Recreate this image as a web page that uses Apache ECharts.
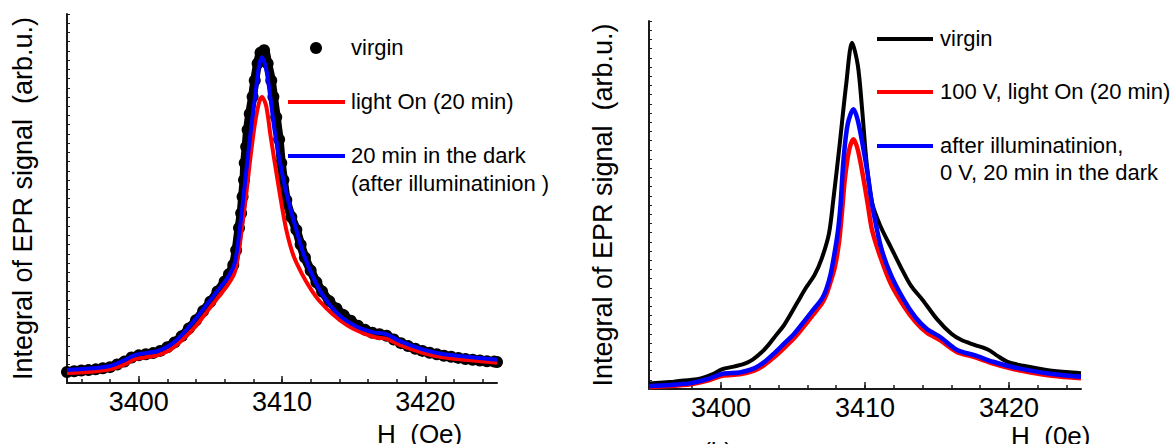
<!DOCTYPE html>
<html>
<head>
<meta charset="utf-8">
<title>EPR integral</title>
<script src="https://cdn.jsdelivr.net/npm/echarts@6/dist/echarts.min.js"></script>
<style>
  html, body { margin: 0; padding: 0; background: #fff; }
  #chart { width: 1175px; height: 444px; }
</style>
</head>
<body>
<div id="chart"></div>
<script>
// field range (Oe) and tick values
const hMin = 3395;
const hMax = 3425;
const majorTicks = [3400, 3410, 3420];
const minorTicks = [3396, 3398, 3400, 3402, 3404, 3406, 3408, 3410, 3412, 3414, 3416, 3418, 3420, 3422, 3424];

// panel (a): [H, integral] (arb. units, axis top = 100)
const aVirgin = [
  [3395, 3.0], [3395.5, 3.2], [3396, 3.4], [3396.5, 3.5], [3397, 3.7], [3397.5, 4.0], [3398, 4.3],
  [3398.5, 5.0], [3399, 5.8], [3399.5, 6.9], [3400, 7.5], [3400.5, 7.8], [3401, 8.1], [3401.5, 8.7],
  [3402, 9.7], [3402.5, 11], [3403, 12.7], [3403.5, 14.8], [3404, 17], [3404.5, 19.5], [3405, 22],
  [3405.5, 24.8], [3406, 27.5], [3406.3, 29.5], [3406.6, 32], [3406.8, 36], [3407.0, 42],
  [3407.15, 46], [3407.25, 50.5], [3407.35, 55], [3407.4, 59.6], [3407.5, 64], [3407.6, 68.6],
  [3407.75, 73], [3407.95, 77.6], [3408.1, 82], [3408.3, 86.6], [3408.5, 89.5], [3408.75, 90.2],
  [3409.0, 86.6], [3409.25, 82], [3409.4, 77.6], [3409.6, 72], [3409.8, 66], [3409.95, 59.6],
  [3410.1, 55], [3410.3, 49.6], [3410.65, 45], [3411.0, 41.5], [3411.3, 37.5], [3411.6, 34],
  [3412.0, 30.5], [3412.4, 27.3], [3412.8, 24.8], [3413.3, 22.2], [3413.8, 20.2], [3414.3, 18.4],
  [3414.8, 16.9], [3415.3, 15.5], [3415.8, 14.4], [3416.3, 13.6], [3416.8, 13.2], [3417.3, 12.8],
  [3417.8, 11.8], [3418.3, 10.8], [3418.8, 10], [3419.3, 9.3], [3419.8, 8.7], [3420.3, 8.2],
  [3420.8, 7.8], [3421.3, 7.4], [3421.8, 7.1], [3422.3, 6.8], [3422.8, 6.5], [3423.3, 6.3],
  [3423.8, 6.1], [3424.3, 5.9], [3424.8, 5.8], [3425, 5.7]
];
const aLightOn = [
  [3395, 2.7], [3396.5, 3.0], [3398, 3.7], [3399, 5.0], [3399.7, 6.4], [3400.5, 7.0], [3401.3, 7.5],
  [3402.2, 9.0], [3403, 11.5], [3404, 15.5], [3404.7, 19], [3405.5, 23], [3406.2, 26.5], [3406.7, 30],
  [3407.0, 36], [3407.2, 42], [3407.5, 51], [3407.75, 59.6], [3408.1, 70], [3408.4, 76], [3408.6, 77.5],
  [3408.9, 75], [3409.2, 67], [3409.5, 59.6], [3409.9, 50], [3410.3, 41.5], [3410.8, 34.5],
  [3411.4, 29.5], [3412.0, 25.5], [3412.6, 22.3], [3413.5, 18.8], [3414.5, 15.8], [3415.5, 13.8],
  [3416.5, 12.4], [3417.3, 12.0], [3418.2, 10.3], [3419.8, 8.2], [3421, 7.1], [3422.2, 6.5], [3425, 5.5]
];
const aDark = [
  [3395, 3.5], [3396.5, 3.9], [3398, 4.6], [3399, 6.2], [3399.7, 7.5], [3400.5, 8.1], [3401.3, 8.6],
  [3402.2, 10.3], [3403, 13], [3404, 17.5], [3404.7, 21], [3405.5, 25], [3406.2, 28.5], [3406.7, 32.5],
  [3407.0, 40], [3407.3, 50], [3407.75, 66], [3408.2, 80], [3408.4, 86], [3408.6, 88.3], [3408.9, 85],
  [3409.2, 77], [3409.5, 68], [3410.0, 57], [3410.4, 50], [3411.0, 41.5], [3411.5, 35], [3412.2, 28.5],
  [3412.9, 23.5], [3414.0, 18.4], [3415.2, 15.3], [3416.3, 13.8], [3417.3, 13.2], [3418.2, 11.4],
  [3419.8, 9.1], [3421, 8], [3422.2, 7.4], [3425, 6.3]
];

// panel (b)
const bVirgin = [
  [3395, 1.5], [3396.7, 2.0], [3398, 2.5], [3398.6, 2.9], [3399.4, 4.0], [3400.1, 5.4], [3400.8, 6.0],
  [3401.6, 6.8], [3402.2, 8.0], [3402.8, 9.9], [3403.3, 12], [3403.8, 14.5], [3404.4, 17.5],
  [3405.3, 23.5], [3405.9, 27.5], [3406.5, 31], [3407.0, 35.5], [3407.5, 42.3], [3407.8, 51.4],
  [3408.2, 65], [3408.7, 83], [3409.1, 94.1], [3409.5, 88], [3409.8, 76], [3410.1, 62],
  [3410.5, 50.5], [3411.1, 44], [3411.8, 38.5], [3412.5, 33], [3413.2, 28], [3414.0, 24.2],
  [3415, 19], [3416, 15], [3416.7, 13.3], [3417.6, 12], [3418.6, 10.6], [3419.2, 9], [3419.9, 7.4],
  [3421, 6.3], [3422.6, 5.2], [3424, 4.6], [3425, 4.3]
];
const bLightOn = [
  [3395, 0.5], [3396.5, 0.8], [3397.9, 1.3], [3399, 2.2], [3400.1, 3.6], [3401.3, 4.0], [3402.3, 5.0],
  [3403, 6.5], [3403.7, 8.7], [3404.4, 11.2], [3405.1, 13.9], [3405.8, 17.2], [3406.4, 20.2],
  [3407.0, 23.2], [3407.3, 25.5], [3407.6, 29], [3407.9, 33], [3408.2, 40], [3408.4, 48], [3408.6, 57],
  [3408.9, 65], [3409.2, 67.9], [3409.5, 65], [3409.9, 57], [3410.2, 50], [3410.5, 43], [3411.1, 35.5],
  [3411.8, 28.5], [3412.7, 22.5], [3413.5, 18.3], [3414.3, 15.3], [3415.2, 13.3], [3416.4, 10],
  [3417.6, 8.7], [3418.9, 6.9], [3420.1, 5.6], [3421.5, 4.5], [3423, 3.6], [3425, 2.9]
];
const bDark = [
  [3395, 0.8], [3396.5, 1.1], [3397.9, 1.6], [3399, 2.6], [3400.1, 4.1], [3401.3, 4.5], [3402.3, 5.6],
  [3403, 7.3], [3403.7, 9.7], [3404.4, 12.4], [3405.1, 15.1], [3405.8, 18.5], [3406.4, 21.5],
  [3407.0, 24.5], [3407.3, 27], [3407.6, 31], [3407.8, 35], [3408.1, 42.3], [3408.3, 50], [3408.5, 62],
  [3408.8, 72], [3409.2, 76], [3409.5, 73], [3409.9, 65], [3410.2, 58], [3410.5, 50], [3411.1, 38.7],
  [3411.8, 31], [3412.7, 24.2], [3413.5, 19.5], [3414.3, 16.3], [3415.2, 14.2], [3416.4, 10.6],
  [3417.6, 9.2], [3418.9, 7.4], [3420.1, 6.1], [3421.5, 5.0], [3423, 4.1], [3425, 3.3]
];

const FONT = "'Liberation Sans', Arial, sans-serif";
const chart = echarts.init(document.getElementById("chart"), null, { renderer: "svg" });

const axisColor = "#1a1a1a";
const makeMajorX = (grid) => ({
  type: "value", gridIndex: grid, position: "bottom", min: hMin, max: hMax,
  axisLine: { onZero: false, lineStyle: { color: axisColor, width: 2 } },
  axisTick: { inside: true, length: 7, customValues: majorTicks, lineStyle: { color: axisColor, width: 1.5 } },
  axisLabel: {
    customValues: majorTicks, color: "#000", fontSize: 27, fontFamily: FONT, margin: 5,
    formatter: (v) => String(v)
  },
  splitLine: { show: false }
});
const makeMinorX = (grid) => ({
  type: "value", gridIndex: grid, position: "bottom", min: hMin, max: hMax,
  axisLine: { show: false, onZero: false },
  axisTick: { inside: true, length: 4, customValues: minorTicks, lineStyle: { color: axisColor, width: 1.5 } },
  axisLabel: { show: false },
  splitLine: { show: false }
});
const makeY = (grid, gap) => ({
  type: "value", gridIndex: grid, min: 0, max: 100, interval: 2.5,
  name: "Integral of EPR signal  (arb.u.)", nameLocation: "middle", nameGap: gap,
  nameTextStyle: { color: "#000", fontSize: 27, fontFamily: FONT },
  axisLine: { onZero: false, lineStyle: { color: axisColor, width: 2 } },
  axisTick: { inside: true, length: 3, lineStyle: { color: axisColor, width: 1 } },
  axisLabel: { show: false },
  splitLine: { show: false }
});
const lineSeries = (x, y, data, color, width) => ({
  type: "line", xAxisIndex: x, yAxisIndex: y, data: data, smooth: 0.3, z: 3,
  showSymbol: false, lineStyle: { color: color, width: width }, itemStyle: { color: color }
});

const legendText = (x, y, text) => ({
  type: "text", left: x, top: y - 12,
  style: { text: text, fill: "#000", font: "22px " + FONT }
});
const legendLine = (x1, x2, y, color) => ({
  type: "line", shape: { x1: x1, y1: y, x2: x2, y2: y },
  style: { stroke: color, lineWidth: 4 }
});

chart.setOption({
  animation: false,
  backgroundColor: "#fff",
  grid: [
    { left: 67, top: 14, width: 430, height: 369, containLabel: false, outerBoundsMode: "none" },
    { left: 649, top: 21, width: 432, height: 368, containLabel: false, outerBoundsMode: "none" }
  ],
  xAxis: [makeMajorX(0), makeMinorX(0), makeMajorX(1), makeMinorX(1)],
  yAxis: [makeY(0, 31), makeY(1, 33)],
  series: [
    Object.assign(lineSeries(0, 0, aVirgin, "#000", 9), {
      z: 2, showSymbol: true, showAllSymbol: true, symbol: "circle", symbolSize: 12
    }),
    lineSeries(0, 0, aLightOn, "#ff0000", 4),
    lineSeries(0, 0, aDark, "#0000ff", 4),
    lineSeries(2, 1, bVirgin, "#000", 4),
    lineSeries(2, 1, bLightOn, "#ff0000", 4.5),
    lineSeries(2, 1, bDark, "#0000ff", 4.5)
  ],
  graphic: [
    { type: "circle", shape: { cx: 316, cy: 48, r: 6 }, style: { fill: "#000" } },
    legendText(351, 48, "virgin"),
    legendLine(288, 345, 102, "#ff0000"),
    legendText(351, 102, "light On (20 min)"),
    legendLine(288, 345, 156, "#0000ff"),
    legendText(351, 156, "20 min in the dark"),
    legendText(351, 184, "(after illuminatinion )"),
    legendLine(877, 933, 39, "#000"),
    legendText(940, 39, "virgin"),
    legendLine(877, 933, 92, "#ff0000"),
    legendText(940, 92, "100 V, light On (20 min)"),
    legendLine(877, 933, 146, "#0000ff"),
    legendText(940, 146, "after illuminatinion,"),
    legendText(940, 173, "0 V, 20 min in the dark"),
    { type: "text", left: 377, top: 421, style: { text: "H  (Oe)", fill: "#000", font: "26px " + FONT } },
    { type: "text", left: 1011, top: 423, style: { text: "H  (0e)", fill: "#000", font: "26px " + FONT } },
    { type: "text", left: 112, top: 440, style: { text: "(a)", fill: "#000", font: "24px " + FONT } },
    { type: "text", left: 703, top: 438, style: { text: "(b)", fill: "#000", font: "24px " + FONT } }
  ]
});

window.onresize = function () {
  chart.resize();
};
</script>
</body>
</html>
